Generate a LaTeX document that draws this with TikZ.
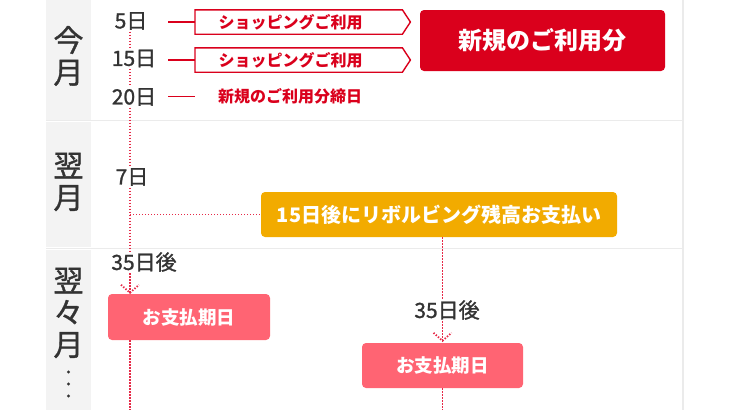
\documentclass[tikz,border=0pt]{standalone}
\usepackage{fontspec}
\setmainfont{Noto Sans CJK JP}
\newfontfamily\medfont[FakeBold=1.2]{Noto Sans CJK JP}
\usetikzlibrary{calc}
\definecolor{brandred}{HTML}{DA001C}
\definecolor{dotred}{HTML}{E62A48}
\definecolor{revorange}{HTML}{F2AB00}
\definecolor{paypink}{HTML}{FF6473}
\definecolor{colgray}{HTML}{F3F3F3}
\definecolor{sepgray}{HTML}{EBEBEB}
\definecolor{txtgray}{HTML}{333333}
\begin{document}
\begin{tikzpicture}[x=1pt,y=-1pt,
  month/.style={font=\medfont\fontsize{30}{32}\selectfont, text=txtgray, align=center, inner sep=0pt},
  datelabel/.style={font=\medfont\fontsize{21}{23}\selectfont, text=txtgray, inner sep=1.5pt},
  usebox/.style={font=\bfseries\fontsize{16}{18}\selectfont, text=brandred, minimum width=207, minimum height=24, inner sep=0pt, anchor=west},
  useborder/.style={draw=brandred, line width=1.4pt, fill=white, line join=miter},
  redline/.style={draw=brandred, line width=1.4pt},
  dotline/.style={draw=dotred, line width=1.8pt, dash pattern=on 1.4pt off 1.6pt},
  solidbox/.style={rounded corners=4pt, text=white, inner sep=0pt, font=\bfseries},
]
\useasboundingbox (0,0) rectangle (730,410);
% grid background
\fill[colgray] (46,0) rectangle (91,119.5);
\fill[colgray] (46,122) rectangle (91,247);
\fill[colgray] (46,249.5) rectangle (91,410);
\draw[sepgray, line width=1.2pt] (46,120.7) -- (683,120.7);
\draw[sepgray, line width=1.2pt] (46,248.2) -- (683,248.2);
\draw[sepgray, line width=2pt] (683,0) -- (683,410);
% month labels
\node[month] (m1) at (68.5,56) {今\\月};
\node[month] (m2) at (68.5,182) {翌\\月};
\node[month] (m3) at (68.5,313) {翌\\々\\月};
\fill[txtgray] (68.5,372) circle (1.7) (68.5,384) circle (1.7) (68.5,396) circle (1.7);
% axis
\coordinate (vx) at (130,0);
\coordinate (bot) at (0,410);
% date labels
\node[datelabel] (d5) at (131,21) {5日};
\node[datelabel] (d15) at (134,58.5) {15日};
\node[datelabel] (d20) at (134,97) {20日};
\node[datelabel] (d7) at (132,177) {7日};
\node[datelabel] (a35) at (144,262) {35日後};
\node[datelabel] (a35b) at (447,310) {35日後};
% shopping boxes
\node[usebox] (s1) at (195,22) {ショッピングご利用\hspace*{16pt}};
\node[usebox] (s2) at (195,60) {ショッピングご利用\hspace*{16pt}};
\foreach \s in {s1,s2}{
  \draw[useborder] (\s.north west) -- (\s.north east) -- ($(\s.east)+(8,0)$) -- (\s.south east) -- (\s.south west) -- cycle;
  \node[usebox] at (\s.west) {ショッピングご利用\hspace*{16pt}};
}
\coordinate (l5) at (168,22);
\coordinate (l15) at (168,60);
\coordinate (l20) at (168,96.7);
\node[font=\bfseries\fontsize{16}{18}\selectfont, text=brandred, inner sep=0pt, anchor=west] (close) at (218,96.7) {新規のご利用分締日};
\draw[redline] (l5) -- (s1.west);
\draw[redline] (l15) -- (s2.west);
\draw[redline] (l20) -- ++(27,0);
% new usage box
\node[solidbox, fill=brandred, minimum width=245, minimum height=61, font=\bfseries\fontsize{24}{26}\selectfont] (newuse) at (542.5,40.5) {新規のご利用分};
% revolving box
\node[solidbox, fill=revorange, minimum width=356, minimum height=45, font=\bfseries\fontsize{20}{22}\selectfont] (rev) at (439,214.5) {15日後にリボルビング残高お支払い};
% payment boxes
\node[solidbox, fill=paypink, minimum width=162, minimum height=46, font=\bfseries\fontsize{18.5}{20}\selectfont] (pay1) at (189,317) {お支払期日};
\node[solidbox, fill=paypink, minimum width=161, minimum height=45, font=\bfseries\fontsize{18.5}{20}\selectfont] (pay2) at (442.5,365.5) {お支払期日};
% dotted connectors
\draw[dotline] (d5.south -| vx) -- (d15.north -| vx);
\draw[dotline] (d15.south -| vx) -- (d20.north -| vx);
\draw[dotline] (d20.south -| vx) -- (d7.north -| vx);
\draw[dotline] (d7.south -| vx) -- (a35.north -| vx);
\draw[dotline] (rev.west -| vx) -- (rev.west);
\draw[dotline] (a35.south -| vx) -- ($(pay1.north -| vx)+(0,-1)$) coordinate (t1);
\draw[dotline] ($(t1)+(-9,-8)$) -- (t1) -- ($(t1)+(9,-8)$);
\draw[dotline] (pay1.south -| vx) -- (bot -| vx);
\draw[dotline] (rev.south -| pay2) -- (a35b.north -| pay2);
\draw[dotline] (a35b.south -| pay2) -- ($(pay2.north)+(0,-2)$) coordinate (t2);
\draw[dotline] ($(t2)+(-9,-8)$) -- (t2) -- ($(t2)+(9,-8)$);
\draw[dotline] (pay2.south) -- (bot -| pay2);
\end{tikzpicture}
\end{document}
